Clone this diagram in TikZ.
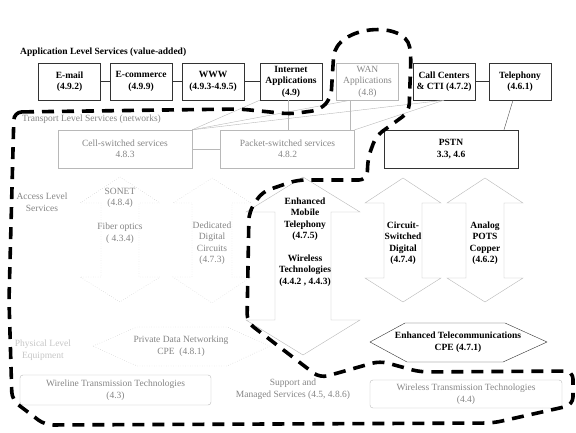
\documentclass[tikz,border=0pt]{standalone}
\usepackage{fontspec}
\setmainfont{Liberation Serif}
\definecolor{lite}{gray}{0.52}
\definecolor{rim}{gray}{0.72}
\begin{document}
\begin{tikzpicture}[x=1pt,y=-1pt,
    every node/.style={font=\fontsize{9.5}{11.5}\selectfont,align=center,inner sep=1pt}]
    \useasboundingbox (0,0) rectangle (576,432);
    %%%%%%%%%%%%%%%%%%%%%%%%%%%%%%%%%%%%%% Application level
    \tikzstyle{appli}=[draw=black!80,minimum width=62pt,minimum height=37pt,font=\fontsize{9.5}{11.5}\selectfont\bfseries]
    \tikzstyle{appligris}=[draw=rim,text=lite,minimum width=62pt,minimum height=37pt]
    \node[anchor=west,font=\fontsize{9.5}{11.5}\selectfont\bfseries] (titre) at (19,52) {Application Level Services (value-added)};
    \node[appli] (email) at (69.5,81.5) {E-mail\\(4.9.2)};
    \node[appli] (ecom) at (141,81.5) {E-commerce\\(4.9.9)};
    \node[appli] (www) at (213,81.5) {WWW\\(4.9.3-4.9.5)};
    \node[appli] (inet) at (291,81.5) {Internet\\Applications\\(4.9)};
    \node[appligris] (wan) at (367.5,81.5) {WAN\\Applications\\(4.8)};
    \node[appli] (call) at (444,81.5) {Call Centers\\\& CTI (4.7.2)};
    \node[appli] (tel) at (520,81.5) {Telephony\\(4.6.1)};

    \draw[black!80] (email.east)--(ecom.west);
    \draw[black!80] (ecom.east)--(www.west);
    \draw[black!80] (www.east)--(inet.west);
    \draw[black!80] (call.east)--(tel.west);

    %%%%%%%%%%%%%%%%%%%%%%%%%%%%%%%%%%%%%% Transport level
    \tikzstyle{reseau}=[draw=rim,text=lite,minimum width=134pt,minimum height=38pt]
    \node[anchor=west,text=lite] (transport) at (21,119) {Transport Level Services (networks)};
    \node[reseau] (cell) at (125,149) {Cell-switched services\\4.8.3};
    \node[reseau] (paquet) at (287.5,149) {Packet-switched services\\4.8.2};
    \node[draw=black!80,minimum width=134pt,minimum height=38pt,font=\fontsize{9.5}{11.5}\selectfont\bfseries] (pstn) at (451,149) {PSTN\\3.3, 4.6};

    \draw[rim] (cell.east)--(paquet.west);
    \draw[rim] (cell.north east)--(inet.south west);
    \draw[rim] (cell.north east)--([xshift=-17pt]wan.south);
    \draw[rim] (cell.north east)--(call.south);
    \draw[rim] (paquet.north east)--(call.south);
    \draw[rim] ([xshift=-3pt]inet.south)--([xshift=-3pt]inet.south |- paquet.north);
    \draw[rim] ([xshift=-17pt]wan.south)--([xshift=-17pt]wan.south |- paquet.north);
    \draw[black!70] ([xshift=-7pt]tel.south)--([xshift=53pt]pstn.north);

    %%%%%%%%%%%%%%%%%%%%%%%%%%%%%%%%%%%%%% Access level
    \tikzstyle{fleche}=[draw=rim,fill=white]
    \tikzstyle{flechepoint}=[draw=rim,dotted,fill=white]
    \node[text=lite] (acces) at (42,202) {Access Level\\Services};

    \draw[flechepoint] (120,177)--(160,203)--(139,203)--(139,277)--(160,277)--(120,302)--(80,277)--(101,277)--(101,203)--(80,203)--cycle;
    \draw[flechepoint] (212,178)--(251,203)--(232,203)--(232,277)--(251,277)--(212,303)--(173,277)--(192,277)--(192,203)--(173,203)--cycle;
    \draw[fleche] (303,177)--(360,212)--(331,212)--(331,320)--(360,320)--(303,355)--(246,320)--(275,320)--(275,212)--(246,212)--cycle;
    \draw[fleche] (403,178)--(441,203)--(422,203)--(422,278)--(441,278)--(403,302)--(365,278)--(384,278)--(384,203)--(365,203)--cycle;
    \draw[fleche] (485,178)--(523,203)--(504,203)--(504,278)--(523,278)--(485,302)--(447,278)--(466,278)--(466,203)--(447,203)--cycle;

    \node[text=lite] (sonet) at (120,198) {SONET\\(4.8.4)};
    \node[text=lite] (fibre) at (120,233) {Fiber optics\\( 4.3.4)};
    \node[text=lite] (dedie) at (212,243) {Dedicated\\Digital\\Circuits\\(4.7.3)};
    \node[font=\fontsize{9.5}{11.5}\selectfont\bfseries] (mobile) at (305,242) {Enhanced\\Mobile\\Telephony\\(4.7.5)\\[11pt]Wireless\\Technologies\\(4.4.2 , 4.4.3)};
    \node[font=\fontsize{9.5}{11.5}\selectfont\bfseries] (circuit) at (403,243) {Circuit-\\Switched\\Digital\\(4.7.4)};
    \node[font=\fontsize{9.5}{11.5}\selectfont\bfseries] (pots) at (485,243) {Analog\\POTS\\Copper\\(4.6.2)};

    %%%%%%%%%%%%%%%%%%%%%%%%%%%%%%%%%%%%%% Physical level
    \node[text=gray!45] (physique) at (43,350) {Physical Level\\Equipment};
    \draw[flechepoint] (93,346)--(137,327)--(227,327)--(270,346)--(227,366)--(137,366)--cycle;
    \node[text=lite] (prive) at (181,346) {Private Data Networking\\CPE\ \ (4.8.1)};
    \draw[black!80,fill=white] (370,342)--(405,323)--(505,323)--(547,342)--(503,362)--(407,362)--cycle;
    \node[font=\fontsize{9.5}{11.5}\selectfont\bfseries] (cpe) at (458,342) {Enhanced Telecommunications\\CPE (4.7.1)};

    \tikzstyle{transm}=[draw=rim,text=lite,rounded corners=3pt]
    \node[transm,minimum width=191pt,minimum height=30pt] (filaire) at (115.5,390) {Wireline Transmission Technologies\\(4.3)};
    \node[text=lite] (support) at (293,389) {Support and\\Managed Services (4.5, 4.8.6)};
    \node[transm,minimum width=192pt,minimum height=28pt] (sansfil) at (466,394) {Wireless Transmission Technologies\\(4.4)};

    %%%%%%%%%%%%%%%%%%%%%%%%%%%%%%%%%%%%%% Frontiere
    \tikzstyle{frontiere}=[line width=3.6pt,dash pattern=on 12pt off 8pt,rounded corners=8pt]
    \draw[frontiere] (14,112)--(240,109)--(290,114)--(320,110)--(331,98)--(333,65)
        .. controls (336,25) and (405,20) .. (411,55)
        --(409,112)--(376,136)--(368,158)--(367,180)--(297,180)--(262,192)--(249,212)
        --(247,322)--(320,378)--(380,361)--(420,372)--(573,371)--(573,405)--(493,423)
        --(45,425)--(12,400)--(9,300)--cycle;
\end{tikzpicture}
\end{document}
